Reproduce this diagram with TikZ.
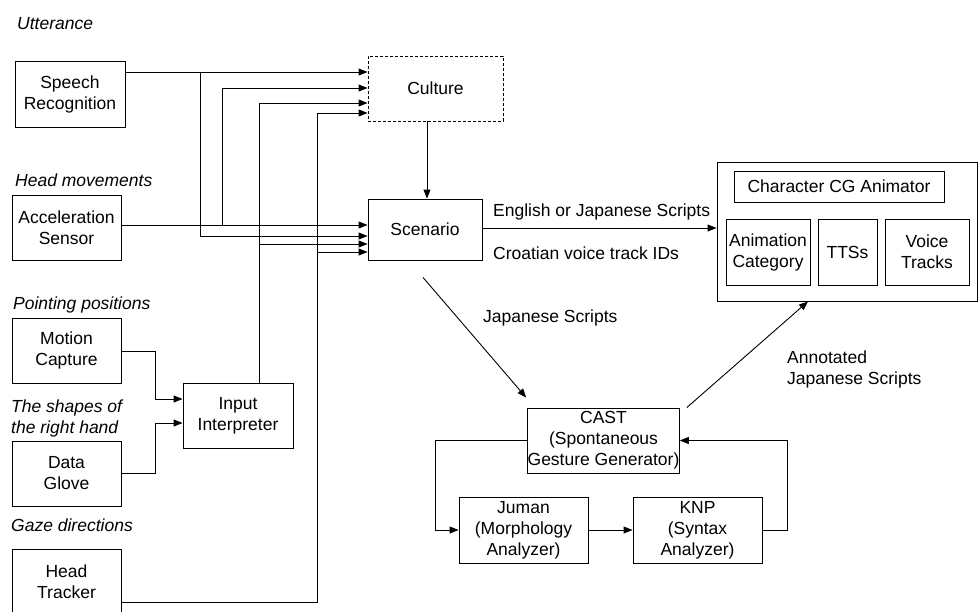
\documentclass[tikz,border=0pt]{standalone}
\usepackage{fontspec}
\setmainfont{Liberation Sans}
\usetikzlibrary{arrows.meta,positioning}
\tikzset{
  box/.style={draw, line width=0.9pt, inner sep=0pt, align=center, font=\fontsize{17.5}{21}\selectfont},
  lab/.style={anchor=west, inner sep=0pt, align=left, font=\fontsize{17.5}{21}\selectfont},
  ilab/.style={lab, font=\fontsize{17.5}{21}\selectfont\itshape},
  arr/.style={line width=0.9pt, -{Triangle[length=9pt,width=7pt]}},
  ln/.style={line width=0.9pt}
}
\begin{document}
\begin{tikzpicture}[x=1pt,y=-1pt]
\clip (0,0) rectangle (979,611);
\fill[white] (0,0) rectangle (979,611);
% left input boxes
\node[box, minimum width=110, minimum height=66] (speech) at (70,94) {Speech\\Recognition};
\node[box, minimum width=109, minimum height=65] (accel) at (66.5,227.5) {Acceleration\\Sensor};
\node[box, minimum width=109, minimum height=65] (motion) at (66.5,350.5) {Motion\\Capture};
\node[box, minimum width=109, minimum height=65] (glove) at (66.5,473.5) {Data\\Glove};
\node[box, minimum width=109, minimum height=66] (tracker) at (66.5,582) {Head\\Tracker};
\node[box, minimum width=110, minimum height=65] (input) at (238,415.5) {Input\\Interpreter};
% labels
\node[ilab] (l1) at (17,24) {Utterance};
\node[ilab] (l2) at (15,180) {Head movements};
\node[ilab] (l3) at (13,305) {Pointing positions};
\node[ilab] (l4) at (11,418) {The shapes of\\the right hand};
\node[ilab] (l5) at (11,525) {Gaze directions};
% center
\node[box, dashed, dash pattern=on 3pt off 2pt, minimum width=135, minimum height=65] (culture) at (435.5,88.5) {Culture};
\node[box, minimum width=114, minimum height=61] (scenario) at (425,229.5) {Scenario};
% right
\node[box, minimum width=260, minimum height=139] (big) at (847,231.5) {};
\node[box, minimum width=210, minimum height=31] (cga) at (839,186.5) {Character CG Animator};
\node[box, minimum width=84, minimum height=66] (anim) at (768,252) {Animation\\Category};
\node[box, minimum width=59, minimum height=66] (tts) at (847.5,252) {TTSs};
\node[box, minimum width=84, minimum height=66] (voice) at (927,252) {Voice\\Tracks};
% bottom
\node[box, minimum width=151, minimum height=65] (cast) at (603.5,440.5) {CAST\\(Spontaneous\\Gesture Generator)};
\node[box, minimum width=129, minimum height=66] (juman) at (523.5,530) {Juman\\(Morphology\\Analyzer)};
\node[box, minimum width=129, minimum height=66] (knp) at (697.5,530) {KNP\\(Syntax\\Analyzer)};
% edge labels
\node[lab] (e1) at (493,212) {English or Japanese Scripts};
\node[lab] (e2) at (493,253) {Croatian voice track IDs};
\node[lab] (e3) at (483,318) {Japanese Scripts};
\node[lab] (e4) at (787,369.5) {Annotated\\Japanese Scripts};
% connectors into culture / scenario
\draw[arr] (speech.east |- 0,72) -- (culture.west |- 0,72);
\draw[arr] (200,72) -- (200,236) -- (scenario.west |- 0,236);
\draw[arr] (accel.east |- 0,225) -- (scenario.west |- 0,225);
\draw[arr] (222,225) |- (culture.west |- 0,88);
\draw[arr] (input.north -| 259,0) |- (culture.west |- 0,103);
\draw[arr] (259,244) -- (scenario.west |- 0,244);
\draw[arr] (tracker.east |- 0,602) -| (317,113) -- (culture.west |- 0,113);
\draw[arr] (317,252) -- (scenario.west |- 0,252);
\draw[arr] (motion.east |- 0,351) -| (155,399) -- (input.west |- 0,399);
\draw[arr] (glove.east |- 0,473) -| (155,423) -- (input.west |- 0,423);
\draw[arr] (culture.south -| 427,0) -- (scenario.north -| 427,0);
\draw[arr] (scenario.east |- 0,228) -- (big.west |- 0,228);
\draw[arr] ([shift={(-2,17)}]scenario.south) -- ([shift={(-1,-10)}]cast.north west);
\draw[arr] ([xshift=7]cast.north east) -- ([xshift=-39]big.south);
\draw[arr] (cast.west) -| (435,530) -- (juman.west);
\draw[arr] (juman.east) -- (knp.west);
\draw[arr] (knp.east) -| (787,440.5) -- (cast.east);
\end{tikzpicture}
\end{document}
